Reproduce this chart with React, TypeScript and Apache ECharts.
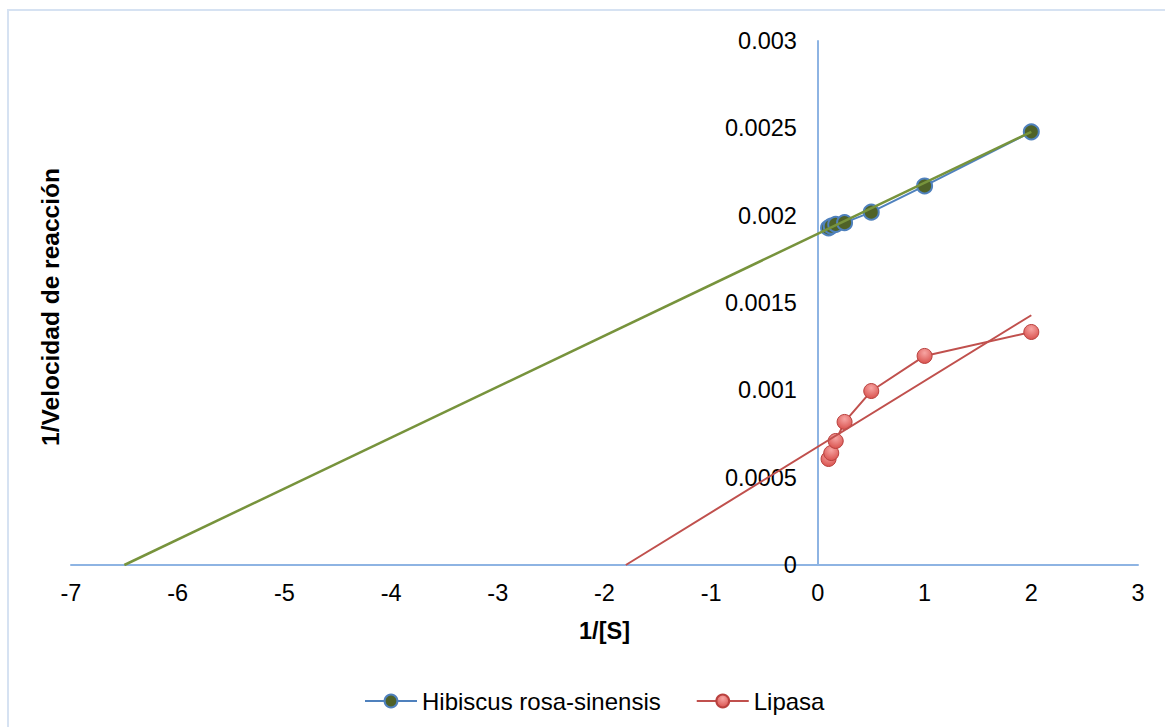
import React, { useEffect, useRef } from "react";
import * as echarts from "echarts";

// Lineweaver–Burk data: 1/[S] vs 1/velocity
const invSubstrate = [0.1, 0.125, 0.167, 0.25, 0.5, 1, 2];
const hibiscusValues = [0.00193, 0.00194, 0.00195, 0.00196, 0.00202, 0.00217, 0.00248];
const lipasaValues = [0.000607, 0.000641, 0.00071, 0.000819, 0.000996, 0.001197, 0.001334];

// Linear trendlines, extended back to their x-intercepts
const hibiscusTrendX = [-6.5, 2];
const hibiscusTrendY = [0, 0.00248];
const lipasaTrendX = [-1.8, 2];
const lipasaTrendY = [0, 0.00143];

const xTicks = { min: -7, max: 3, interval: 1 };
const yTicks = { min: 0, max: 0.003, interval: 0.0005 };

const FONT = "'Liberation Sans', Arial, sans-serif";
const AXIS_BLUE = "#8EB4E3";
const LABEL_SIZE = 23.5;

const WIDTH = 1165;
const HEIGHT = 727;
const GRID = { left: 71, right: 27, top: 41, bottom: 162 };

export default function App() {
  const ref = useRef<HTMLDivElement>(null);

  useEffect(() => {
    if (!ref.current) return;
    const chart = echarts.init(ref.current, undefined, { renderer: "svg" });

    const pairs = (xs: number[], ys: number[]) => xs.map((x, i) => [x, ys[i]]);

    // the vertical axis crosses the horizontal one at x = 0
    const plotWidth = WIDTH - GRID.left - GRID.right;
    const zeroOffset = ((0 - xTicks.min) / (xTicks.max - xTicks.min)) * plotWidth;

    chart.setOption({
      animation: false,
      backgroundColor: "#ffffff",
      textStyle: { fontFamily: FONT },
      grid: { ...GRID, containLabel: false, outerBoundsMode: "none" },
      legend: {
        data: ["Hibiscus rosa-sinensis", "Lipasa"],
        top: 684,
        left: 359,
        itemWidth: 52,
        itemHeight: 16,
        itemGap: 35,
        textStyle: { fontFamily: FONT, fontSize: 24, color: "#000" },
      },
      xAxis: {
        type: "value",
        min: xTicks.min,
        max: xTicks.max,
        interval: xTicks.interval,
        name: "1/[S]",
        nameLocation: "middle",
        nameGap: 54,
        nameTextStyle: { fontFamily: FONT, fontSize: 23.5, fontWeight: "bold", color: "#000" },
        axisLine: { onZero: true, lineStyle: { color: AXIS_BLUE, width: 2 } },
        axisTick: { show: false },
        splitLine: { show: false },
        axisLabel: { fontFamily: FONT, fontSize: LABEL_SIZE, color: "#000", margin: 16 },
      },
      yAxis: {
        type: "value",
        position: "left",
        offset: -zeroOffset,
        min: yTicks.min,
        max: yTicks.max,
        interval: yTicks.interval,
        axisLine: { show: true, onZero: false, lineStyle: { color: AXIS_BLUE, width: 2 } },
        axisTick: { show: false },
        splitLine: { show: false },
        axisLabel: {
          fontFamily: FONT,
          fontSize: LABEL_SIZE,
          color: "#000",
          margin: 21,
          formatter: (v: number) => String(+v.toFixed(4)),
        },
      },
      graphic: [
        {
          type: "rect",
          silent: true,
          shape: { x: 8, y: 10, width: 1200, height: 800 },
          style: { fill: "none", stroke: "#D6E2F2", lineWidth: 2 },
          z: -1,
        },
        {
          type: "text",
          x: 50,
          y: 307,
          rotation: Math.PI / 2,
          style: {
            text: "1/Velocidad de reacción",
            font: `bold 24.5px ${FONT}`,
            fill: "#000",
            textAlign: "center",
            textVerticalAlign: "middle",
          },
        },
      ],
      series: [
        {
          name: "Hibiscus rosa-sinensis",
          type: "line",
          data: pairs(invSubstrate, hibiscusValues),
          symbol: "circle",
          symbolSize: 15,
          lineStyle: { color: "#4F81BD", width: 2 },
          itemStyle: { color: "#4F6228", borderColor: "#4F81BD", borderWidth: 2 },
          z: 2,
        },
        {
          name: "Lipasa",
          type: "line",
          data: pairs(invSubstrate, lipasaValues),
          symbol: "circle",
          symbolSize: 15,
          lineStyle: { color: "#C0504D", width: 2 },
          itemStyle: {
            color: {
              type: "radial",
              x: 0.5,
              y: 0.3,
              r: 0.7,
              colorStops: [
                { offset: 0, color: "#F7A5A3" },
                { offset: 1, color: "#D9534F" },
              ],
            },
            borderColor: "#B9413E",
            borderWidth: 1,
          },
          z: 2,
        },
        {
          name: "hibiscusTrend",
          type: "line",
          data: pairs(hibiscusTrendX, hibiscusTrendY),
          showSymbol: false,
          symbol: "none",
          lineStyle: { color: "#77933C", width: 2.5 },
          silent: true,
          z: 3,
        },
        {
          name: "lipasaTrend",
          type: "line",
          data: pairs(lipasaTrendX, lipasaTrendY),
          showSymbol: false,
          symbol: "none",
          lineStyle: { color: "#C0504D", width: 2 },
          silent: true,
          z: 3,
        },
      ],
    });

    return () => chart.dispose();
  }, []);

  return (
    <div
      ref={ref}
      style={{ position: "fixed", left: 0, top: 0, width: WIDTH, height: HEIGHT, background: "#fff" }}
    />
  );
}
